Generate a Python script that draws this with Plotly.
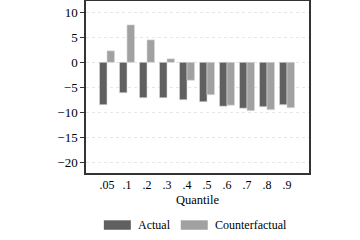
import plotly.graph_objects as go

quantiles = [".05", ".1", ".2", ".3", ".4", ".5", ".6", ".7", ".8", ".9"]
actual = [-8.5, -6.1, -7.1, -7.1, -7.5, -7.9, -8.8, -9.2, -8.9, -8.5]
counterfactual = [2.3, 7.5, 4.5, 0.7, -3.6, -6.5, -8.6, -9.7, -9.5, -9.1]
y_ticks = [10, 5, 0, -5, -10, -15, -20]
y_tick_text = ["10", "5", "0", "\u22125", "\u221210", "\u221215", "\u221220"]

c_actual = "#606060"
c_cf = "#a1a1a1"
font = "Times New Roman, Liberation Serif, DejaVu Serif, serif"

fig = go.Figure()
fig.add_bar(x=quantiles, y=actual, name="Actual", marker=dict(color=c_actual, line=dict(color="#d8d8d8", width=0.6)))
fig.add_bar(x=quantiles, y=counterfactual, name="Counterfactual", marker=dict(color=c_cf, line=dict(color="#d8d8d8", width=0.6)))

fig.update_layout(
    width=360, height=240,
    margin=dict(l=86, r=51, t=1, b=67, autoexpand=False),
    paper_bgcolor="white", plot_bgcolor="white",
    barmode="group", bargap=0.25, bargroupgap=0,
    showlegend=False,
    font=dict(family=font, size=12, color="black"),
)
fig.update_xaxes(
    range=[-1.05, 10.1], showline=True, linecolor="#333", linewidth=1.5, mirror=True,
    ticks="", showgrid=False, tickfont=dict(family=font, size=12), automargin=False,
    title=dict(text="Quantile", font=dict(family=font, size=12.5), standoff=4),
)
fig.update_yaxes(
    range=[-22.2, 12.3], tickvals=y_ticks, ticktext=y_tick_text,
    showline=True, linecolor="#333", linewidth=1.5, mirror=True,
    ticks="outside", ticklen=4, tickcolor="#333", automargin=False,
    showgrid=True, gridcolor="#e6e6e6", griddash="dot", gridwidth=1,
    zeroline=False, tickfont=dict(family=font, size=13),
)

# legend drawn manually (wide swatches)
legend_items = [("Actual", c_actual, 0.08), ("Counterfactual", c_cf, 0.425)]
for label, col, x0 in legend_items:
    fig.add_shape(type="rect", xref="paper", yref="paper",
                  x0=x0, x1=x0 + 0.121, y0=-0.330, y1=-0.275,
                  fillcolor=col, line=dict(width=0))
    fig.add_annotation(xref="paper", yref="paper", x=x0 + 0.145, y=-0.302,
                       text=label, showarrow=False, xanchor="left", yanchor="middle",
                       font=dict(family=font, size=12))

fig.write_html("out.html", config={"displayModeBar": False},
               post_script="document.body.style.margin='0';document.body.style.padding='0';")
